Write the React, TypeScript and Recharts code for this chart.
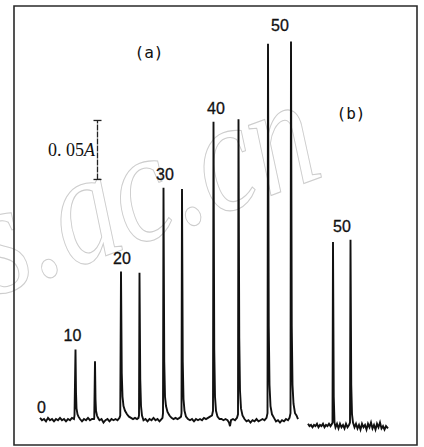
import React from 'react';
import { LineChart, Line, XAxis, YAxis, ReferenceArea, ReferenceLine, ReferenceDot, Customized } from 'recharts';

// time in s, absorbance in A
const traceA: [number, number][] = [
  [52, 0.002], [56, 0.0], [60, 0.001], [64, -0.001], [68, 0.002], [72, 0.0], [76, 0.001], [80, -0.001],
  [84, 0.001], [88, 0.0], [92, 0.002], [96, 0.0], [100, 0.001], [104, -0.001], [108, 0.001], [112, 0.0],
  [116, 0.002], [120, 0.001],
  [121, 0.004], [123, 0.06], [124, 0.024], [125, 0.01], [127, 0.005], [129, 0.003], [132, 0.001],
  [136, -0.001], [140, 0.001], [144, 0.0], [148, 0.002], [152, 0.0], [156, 0.001], [160, 0.001],
  [160.5, 0.002], [162, 0.05], [163, 0.018], [164, 0.008], [166, 0.004], [168, 0.002], [171, 0.0],
  [175, 0.001], [179, -0.002], [183, 0.0], [187, 0.001], [191, -0.001], [195, 0.001], [199, 0.0],
  [203, 0.001], [207, 0.0], [211, 0.002],
  [212.5, 0.004], [214, 0.126], [215.5, 0.04], [217, 0.02], [219, 0.012], [222, 0.008], [226, 0.005],
  [230, 0.003], [234, 0.002],
  [238, 0.001], [242, 0.002], [246, 0.001], [249, 0.002],
  [250, 0.004], [251, 0.125], [252.5, 0.035], [254, 0.012], [256, 0.004], [259, 0.0],
  [263, 0.001], [267, -0.001], [271, 0.001], [275, 0.0], [279, 0.002], [283, 0.0], [287, 0.001],
  [291, -0.001], [295, 0.001], [297, 0.002],
  [298, 0.006], [299, 0.197], [300.5, 0.05], [302, 0.02], [304, 0.012], [307, 0.007], [311, 0.004],
  [315, 0.002],
  [319, 0.001], [323, 0.002], [327, 0.001], [331, 0.002], [334, 0.003],
  [335, 0.006], [336, 0.196], [337.5, 0.05], [339, 0.018], [341, 0.008], [344, 0.003], [348, 0.001],
  [352, 0.0], [356, 0.001], [360, -0.001], [364, 0.001], [368, 0.0], [372, 0.001], [376, 0.0],
  [380, 0.002], [384, 0.001], [388, 0.002], [392, 0.003], [396, 0.004],
  [398, 0.008], [399, 0.253], [400.5, 0.06], [402, 0.02], [404, 0.008], [407, 0.003], [411, 0.001],
  [415, 0.001], [419, 0.0], [423, 0.001], [427, 0.0], [430, -0.002], [432, -0.005], [434, 0.0],
  [438, 0.001], [442, 0.0], [446, 0.002],
  [448, 0.005], [449, 0.255], [450.5, 0.07], [452, 0.025], [454, 0.01], [457, 0.004], [461, 0.001],
  [465, -0.001], [469, 0.0], [473, -0.002], [477, 0.0], [481, -0.001], [485, 0.001], [489, -0.001],
  [493, 0.0], [497, 0.001], [501, 0.0], [505, 0.002],
  [507, 0.006], [508, 0.319], [509.5, 0.08], [511, 0.03], [513, 0.012], [516, 0.005], [520, 0.002],
  [524, -0.001], [528, 0.0], [532, -0.002], [536, 0.0], [540, -0.001], [544, 0.001], [548, 0.0],
  [551, 0.002],
  [553, 0.006], [554, 0.321], [555.5, 0.08], [557, 0.03], [559, 0.014], [562, 0.006], [565, 0.004],
  [568, 0.001],
];

const traceB: [number, number][] = [
  [588, -0.003], [591, -0.005], [594, -0.004], [597, -0.006], [600, -0.004], [603, -0.005],
  [606, -0.003], [609, -0.006], [612, -0.004], [615, -0.005], [618, -0.003], [621, -0.006],
  [624, -0.004], [627, -0.005], [630, -0.003], [633, -0.005], [636, -0.003],
  [637, -0.002], [638, 0.151], [639.5, 0.02], [641, -0.002], [643, -0.006], [646, -0.003],
  [649, -0.007], [652, -0.003], [655, -0.006], [658, -0.004], [661, -0.007], [664, -0.003],
  [667, -0.006], [670, -0.004], [672, -0.002],
  [673, 0.153], [674.5, 0.03], [676, 0.005], [678, -0.002], [681, -0.006], [684, -0.003],
  [687, -0.007], [690, -0.004], [693, -0.008], [696, -0.003], [699, -0.006], [702, -0.004],
  [705, -0.008], [708, -0.003], [711, -0.006], [714, -0.002], [717, -0.007], [720, -0.004],
  [723, -0.008], [726, -0.003], [729, -0.006], [732, -0.002], [735, -0.007], [738, -0.005],
  [741, -0.008], [744, -0.005], [748, -0.007],
];

// concentration labels: [text, time, absorbance]
const peakLabels: [string, number, number][] = [
  ['0', 55, 0.011],
  ['10', 117, 0.072],
  ['20', 216, 0.137],
  ['30', 302, 0.208],
  ['40', 404, 0.264],
  ['50', 532, 0.335],
  ['50', 656, 0.164],
];

const panelLabels: [string, number, number][] = [
  ['(a)', 270, 0.312],
  ['(b)', 674, 0.26],
];

const scaleBar = { t: 167, from: 0.204, to: 0.254 };

const toRows = (arr: [number, number][]) => arr.map(([t, a]) => ({ t, a }));

const Watermark = () => (
  <text
    x={0}
    y={0}
    textAnchor="middle"
    transform="translate(160 236) rotate(-20) scale(1 1.25)"
    fontFamily="Liberation Serif"
    fontStyle="italic"
    fontSize={128}
    fill="none"
    stroke="#cdcdcd"
    strokeWidth={0.9}
  >
    s.ac.cn
  </text>
);

export default function App() {
  const lineStyle = { stroke: '#111', strokeWidth: 1.9 };
  return (
    <div style={{ position: 'absolute', left: 0, top: 0, background: '#fff' }}>
      <LineChart width={424} height={447} margin={{ top: 6, right: 7, bottom: 2, left: 14 }}>
        <XAxis dataKey="t" type="number" domain={[0, 806]} hide allowDataOverflow />
        <YAxis type="number" domain={[-0.021, 0.351]} hide allowDataOverflow />
        <Customized component={Watermark} />
        <ReferenceArea
          x1={0}
          x2={806}
          y1={-0.021}
          y2={0.351}
          fill="none"
          stroke="#2a2a2a"
          strokeWidth={1.6}
          ifOverflow="visible"
        />
        <Line data={toRows(traceA)} dataKey="a" type="linear" dot={false} isAnimationActive={false} {...lineStyle} />
        <Line data={toRows(traceB)} dataKey="a" type="linear" dot={false} isAnimationActive={false} {...lineStyle} />
        <ReferenceLine
          segment={[{ x: scaleBar.t, y: scaleBar.from }, { x: scaleBar.t, y: scaleBar.to }]}
          stroke="#222"
          strokeWidth={1.3}
          strokeDasharray="6 1"
        />
        <ReferenceLine
          segment={[{ x: scaleBar.t - 8, y: scaleBar.from }, { x: scaleBar.t + 8, y: scaleBar.from }]}
          stroke="#222"
          strokeWidth={1.3}
        />
        <ReferenceLine
          segment={[{ x: scaleBar.t - 8, y: scaleBar.to }, { x: scaleBar.t + 8, y: scaleBar.to }]}
          stroke="#222"
          strokeWidth={1.3}
        />
        <ReferenceDot
          x={scaleBar.t - 5}
          y={(scaleBar.from + scaleBar.to) / 2}
          r={0}
          ifOverflow="visible"
          label={(p: any) => (
            <text
              x={p.viewBox.cx ?? p.viewBox.x}
              y={(p.viewBox.cy ?? p.viewBox.y) + 6}
              textAnchor="end"
              fontFamily="Liberation Serif"
              fontSize={18}
              fill="#111"
            >
              0. 05<tspan fontStyle="italic">A</tspan>
            </text>
          )}
        />
        {peakLabels.map(([txt, t, a], i) => (
          <ReferenceDot
            key={'p' + i}
            x={t}
            y={a}
            r={0}
            ifOverflow="visible"
            label={{
              value: txt,
              position: 'center',
              fontFamily: 'Liberation Sans',
              fontSize: 16,
              fill: '#111',
              stroke: '#111',
              strokeWidth: 0.3,
            }}
          />
        ))}
        {panelLabels.map(([txt, t, a], i) => (
          <ReferenceDot
            key={'l' + i}
            x={t}
            y={a}
            r={0}
            ifOverflow="visible"
            label={{ value: txt, position: 'center', fontFamily: 'DejaVu Sans Mono', fontSize: 16, fill: '#111' }}
          />
        ))}
      </LineChart>
    </div>
  );
}
